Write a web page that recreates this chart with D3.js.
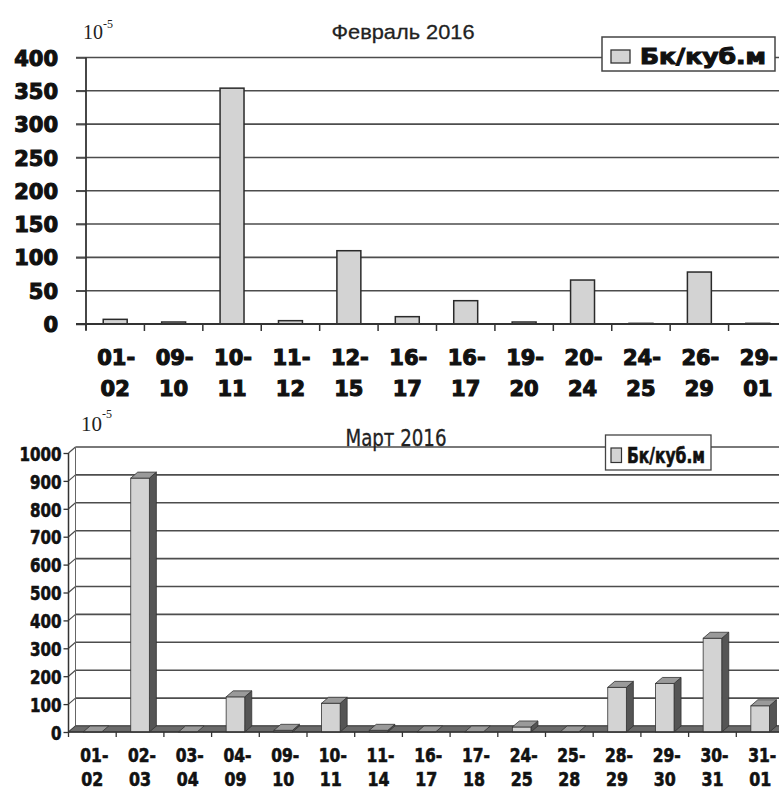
<!DOCTYPE html>
<html><head><meta charset="utf-8">
<script src="https://cdnjs.cloudflare.com/ajax/libs/d3/7.8.5/d3.min.js"></script>
<style>html,body{margin:0;padding:0;background:#fff;}</style>
</head><body>
<script>
// ---- data ----
const febTitle = "Февраль 2016";
const febCats = ["01-02","09-10","10-11","11-12","12-15","16-17","16-17 ","19-20","20-24","24-25","26-29","29-01"];
const febValues = [7, 3, 354, 5, 110, 11, 35, 3, 66, 1, 78, 1];
const febTicks = [0, 50, 100, 150, 200, 250, 300, 350, 400];

const marTitle = "Март 2016";
const marCats = ["01-02","02-03","03-04","04-09","09-10","10-11","11-14","16-17","17-18","24-25","25-28","28-29","29-30","30-31","31-01"];
const marValues = [0, 910, 0, 126, 6, 103, 6, 0, 0, 18, 0, 160, 174, 336, 94];
const marTicks = [0, 100, 200, 300, 400, 500, 600, 700, 800, 900, 1000];

const seriesName = "Бк/куб.м";

const W = 779, H = 792;
const svg = d3.select("body").append("svg").attr("width", W).attr("height", H);
const gridColor = "#4d4d4d";
const barFill = "#d3d3d3";

function splitLabel(c){ const p = c.trim().split("-"); return [p[0] + "-", p[1]]; }
function narrowLen(s){ let n = 0; for (const ch of s) n += (ch === "-" ? 6 : 11); return n; }

// ===================== TOP CHART =====================
(function(){
  const g = svg.append("g");
  const x = d3.scaleBand().domain(febCats).range([86, 787]).paddingInner(0.59).paddingOuter(0.295);
  const y = d3.scaleLinear().domain([0, 400]).range([324, 57.5]);
  const topFont = "'DejaVu Sans', sans-serif";

  g.selectAll("line.grid").data(febTicks).join("line")
    .attr("x1", 76).attr("x2", W).attr("y1", d => y(d)).attr("y2", d => y(d))
    .attr("stroke", gridColor).attr("stroke-width", 1.6);

  const ya = g.append("g").attr("transform", "translate(86,0)")
    .call(d3.axisLeft(y).tickValues(febTicks).tickSize(10).tickPadding(18).tickFormat(d3.format("d")));
  ya.select(".domain").remove();
  ya.selectAll(".tick line").attr("stroke", gridColor).attr("stroke-width", 1.6);
  ya.selectAll(".tick text").attr("font-family", topFont).attr("font-weight", "bold")
    .attr("font-size", 21).attr("fill", "#111").attr("stroke", "#111").attr("stroke-width", 1.1).attr("dy", "0.36em");

  g.append("line").attr("x1", 86).attr("x2", 86).attr("y1", y(400)).attr("y2", 330)
    .attr("stroke", "#333").attr("stroke-width", 1.8);

  g.selectAll("rect.bar").data(febCats).join("rect")
    .attr("x", d => x(d)).attr("width", x.bandwidth())
    .attr("y", (d, i) => y(febValues[i])).attr("height", (d, i) => y(0) - y(febValues[i]))
    .attr("fill", barFill).attr("stroke", "#2a2a2a").attr("stroke-width", 1.5);

  g.append("line").attr("x1", 76).attr("x2", W).attr("y1", y(0)).attr("y2", y(0))
    .attr("stroke", "#333").attr("stroke-width", 1.8);
  g.selectAll("line.xt").data(d3.range(febCats.length + 1)).join("line")
    .attr("x1", i => 86 + i * x.step()).attr("x2", i => 86 + i * x.step())
    .attr("y1", y(0)).attr("y2", y(0) + 7).attr("stroke", "#333").attr("stroke-width", 1.5);

  const lab = g.selectAll("text.xl").data(febCats).join("text")
    .attr("text-anchor", "middle").attr("font-family", topFont).attr("font-weight", "bold")
    .attr("font-size", 21).attr("fill", "#111").attr("stroke", "#111").attr("stroke-width", 1.1);
  lab.append("tspan").attr("x", d => x(d) + x.bandwidth() / 2 + 1).attr("y", 365).text(d => splitLabel(d)[0]);
  lab.append("tspan").attr("x", d => x(d) + x.bandwidth() / 2).attr("y", 396).text(d => splitLabel(d)[1]);

  g.append("text").attr("x", 403).attr("y", 39).attr("text-anchor", "middle")
    .attr("font-family", "'Liberation Sans', Arial, sans-serif").attr("font-size", 21)
    .attr("textLength", 143).attr("lengthAdjust", "spacingAndGlyphs").attr("fill", "#222")
    .attr("stroke", "#222").attr("stroke-width", 0.3).text(febTitle);

  const e = g.append("text").attr("x", 83).attr("y", 39).attr("font-family", "'Liberation Serif', serif").attr("fill", "#222");
  e.append("tspan").attr("font-size", 20).text("10");
  e.append("tspan").attr("font-size", 12).attr("dy", -11).text("-5");

  const lg = g.append("g");
  lg.append("rect").attr("x", 602).attr("y", 37).attr("width", 173).attr("height", 34)
    .attr("fill", "#fff").attr("stroke", "#444").attr("stroke-width", 1.5);
  lg.append("rect").attr("x", 611).attr("y", 50).attr("width", 19).attr("height", 13)
    .attr("fill", barFill).attr("stroke", "#333").attr("stroke-width", 1.3);
  lg.append("text").attr("x", 640).attr("y", 63.5).attr("font-family", topFont).attr("font-weight", "bold")
    .attr("font-size", 22).attr("textLength", 126).attr("lengthAdjust", "spacingAndGlyphs")
    .attr("fill", "#111").attr("stroke", "#111").attr("stroke-width", 1.1).text(seriesName);
})();

// ===================== BOTTOM CHART (3D) =====================
(function(){
  const g = svg.append("g");
  const dx = 7, dy = -6;
  const x0 = 68.5;
  const x = d3.scaleBand().domain(marCats).range([x0, 784]).paddingInner(0.61).paddingOuter(0.305);
  const y = d3.scaleLinear().domain([0, 1000]).range([732, 453]);
  const nFont = "'DejaVu Sans Condensed', 'Liberation Sans Narrow', sans-serif";

  g.selectAll("line.grid").data(marTicks).join("line")
    .attr("x1", x0 + dx).attr("x2", W).attr("y1", d => y(d) + dy).attr("y2", d => y(d) + dy)
    .attr("stroke", gridColor).attr("stroke-width", 1.6);
  g.selectAll("line.sl").data(marTicks).join("line")
    .attr("x1", x0).attr("x2", x0 + dx).attr("y1", d => y(d)).attr("y2", d => y(d) + dy)
    .attr("stroke", gridColor).attr("stroke-width", 1.2);
  g.append("line").attr("x1", x0 + dx).attr("x2", x0 + dx).attr("y1", y(1000) + dy).attr("y2", y(0) + dy)
    .attr("stroke", "#666").attr("stroke-width", 1);

  g.append("path").attr("d", `M${x0},${y(0)} L${W + 20},${y(0)} L${W + 20 + dx},${y(0) + dy} L${x0 + dx},${y(0) + dy} Z`)
    .attr("fill", "#6a6a6a").attr("stroke", "#444").attr("stroke-width", 1);

  const bars = g.selectAll("g.bar").data(marCats).join("g");
  const bw = x.bandwidth();
  bars.each(function(d, i){
    const v = marValues[i];
    const bx = x(d), yv = y(v), yb = y(0);
    const s = d3.select(this);
    if (v > 0) {
      s.append("path").attr("d", `M${bx + bw},${yv} L${bx + bw + dx},${yv + dy} L${bx + bw + dx},${yb + dy} L${bx + bw},${yb} Z`)
        .attr("fill", "#555").attr("stroke", "#333").attr("stroke-width", 0.8);
      s.append("rect").attr("x", bx).attr("y", yv).attr("width", bw).attr("height", yb - yv)
        .attr("fill", barFill).attr("stroke", "#333").attr("stroke-width", 0.8);
    }
    s.append("path").attr("d", `M${bx},${yv} L${bx + dx},${yv + dy} L${bx + bw + dx},${yv + dy} L${bx + bw},${yv} Z`)
      .attr("fill", "#9a9a9a").attr("stroke", "#333").attr("stroke-width", 0.8);
  });

  g.append("line").attr("x1", x0).attr("x2", x0).attr("y1", y(1000)).attr("y2", y(0))
    .attr("stroke", "#333").attr("stroke-width", 1.5);
  g.append("line").attr("x1", x0).attr("x2", W).attr("y1", y(0)).attr("y2", y(0))
    .attr("stroke", "#333").attr("stroke-width", 1.5);
  g.selectAll("line.xt").data(d3.range(marCats.length + 1)).join("line")
    .attr("x1", i => x0 + i * x.step()).attr("x2", i => x0 + i * x.step())
    .attr("y1", y(0)).attr("y2", y(0) + 5).attr("stroke", "#333").attr("stroke-width", 1.3);

  const ya = g.append("g").attr("transform", `translate(${x0},0)`)
    .call(d3.axisLeft(y).tickValues(marTicks).tickSize(5).tickPadding(2).tickFormat(d3.format("d")));
  ya.select(".domain").remove();
  ya.selectAll(".tick line").attr("stroke", "#333").attr("stroke-width", 1.3);
  ya.selectAll(".tick text").attr("font-family", nFont).attr("font-weight", "bold")
    .attr("font-size", 20).attr("fill", "#111").attr("stroke", "#111").attr("stroke-width", 0.6).attr("dy", "0.36em")
    .attr("textLength", function(){ return String(this.textContent).length * 10.5; })
    .attr("lengthAdjust", "spacingAndGlyphs");

  const lab = g.selectAll("text.xl").data(marCats).join("text")
    .attr("text-anchor", "middle").attr("font-family", nFont).attr("font-weight", "bold")
    .attr("font-size", 19).attr("fill", "#111").attr("stroke", "#111").attr("stroke-width", 0.6);
  lab.append("tspan").attr("x", d => x(d) + bw / 2 + 2).attr("y", 762)
    .attr("textLength", d => narrowLen(splitLabel(d)[0])).attr("lengthAdjust", "spacingAndGlyphs")
    .text(d => splitLabel(d)[0]);
  lab.append("tspan").attr("x", d => x(d) + bw / 2).attr("y", 786)
    .attr("textLength", d => narrowLen(splitLabel(d)[1])).attr("lengthAdjust", "spacingAndGlyphs")
    .text(d => splitLabel(d)[1]);

  g.append("text").attr("x", 396).attr("y", 446).attr("text-anchor", "middle")
    .attr("font-family", nFont).attr("font-size", 23)
    .attr("textLength", 101).attr("lengthAdjust", "spacingAndGlyphs").attr("fill", "#222")
    .attr("stroke", "#222").attr("stroke-width", 0.3).text(marTitle);

  const e = g.append("text").attr("x", 81).attr("y", 431).attr("font-family", "'Liberation Serif', serif").attr("fill", "#222");
  e.append("tspan").attr("font-size", 21).text("10");
  e.append("tspan").attr("font-size", 12).attr("dy", -13).text("-5");

  const lg = g.append("g");
  lg.append("rect").attr("x", 605.5).attr("y", 435).attr("width", 105.5).attr("height", 35)
    .attr("fill", "#fff").attr("stroke", "#444").attr("stroke-width", 1.3);
  lg.append("rect").attr("x", 611).attr("y", 448).attr("width", 10.5).attr("height", 14.5)
    .attr("fill", barFill).attr("stroke", "#333").attr("stroke-width", 1.2);
  lg.append("text").attr("x", 627).attr("y", 463).attr("font-family", nFont).attr("font-weight", "bold")
    .attr("font-size", 21).attr("textLength", 78).attr("lengthAdjust", "spacingAndGlyphs")
    .attr("fill", "#111").attr("stroke", "#111").attr("stroke-width", 0.6).text(seriesName);
})();
</script>
</body></html>
